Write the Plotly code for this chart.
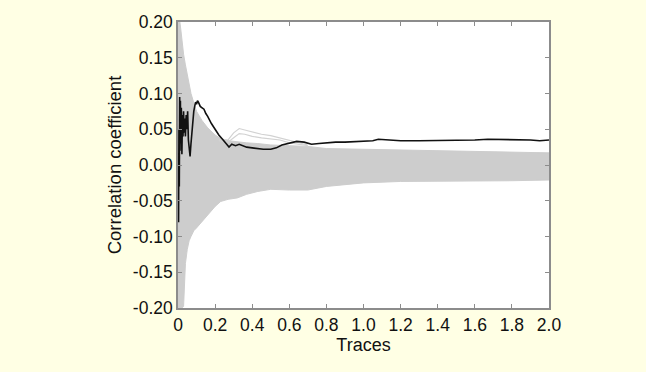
import plotly.graph_objects as go

# Gray band (wrong key hypotheses) envelope
band_x = [0, 0.005, 0.01, 0.015, 0.02, 0.03, 0.04, 0.05, 0.06, 0.07, 0.085, 0.1, 0.13, 0.16, 0.2,
          0.23, 0.27, 0.32, 0.37, 0.43, 0.5, 0.6, 0.7, 0.8, 1.0, 1.2, 1.4, 1.6, 1.8, 2.0]
band_upper = [0.2, 0.2, 0.2, 0.19, 0.175, 0.155, 0.14, 0.125, 0.112, 0.10, 0.087, 0.075, 0.062, 0.052, 0.042,
              0.037, 0.034, 0.032, 0.031, 0.030, 0.028, 0.027, 0.026, 0.023, 0.022, 0.020, 0.019, 0.018, 0.017, 0.017]
band_lower = [-0.2, -0.2, -0.2, -0.2, -0.2, -0.198, -0.138, -0.118, -0.106, -0.1, -0.092, -0.088, -0.079, -0.071, -0.058,
              -0.051, -0.048, -0.046, -0.041, -0.037, -0.034, -0.035, -0.035, -0.030, -0.025, -0.023, -0.023, -0.022, -0.022, -0.021]

# Outlier gray traces
out1_x = [0.22, 0.27, 0.3, 0.33, 0.36, 0.4, 0.45, 0.5, 0.55, 0.6, 0.65, 0.7]
out1_y = [0.036, 0.035, 0.045, 0.051, 0.049, 0.046, 0.043, 0.041, 0.038, 0.034, 0.031, 0.028]
out2_x = [0.22, 0.27, 0.3, 0.33, 0.36, 0.4, 0.45, 0.5, 0.55, 0.6, 0.65, 0.7]
out2_y = [0.034, 0.032, 0.038, 0.044, 0.043, 0.040, 0.038, 0.037, 0.035, 0.031, 0.029, 0.027]

# Correct key trace (black)
key_x = [0.001, 0.003, 0.005, 0.007, 0.009, 0.011, 0.013, 0.015, 0.018, 0.021, 0.024, 0.027,
         0.03, 0.033, 0.036, 0.04, 0.044, 0.048, 0.052, 0.056, 0.06, 0.065, 0.07, 0.075, 0.08,
         0.085, 0.09, 0.095, 0.1, 0.105, 0.11, 0.12, 0.13, 0.14, 0.15, 0.16, 0.18, 0.2, 0.22,
         0.24, 0.26, 0.275, 0.29, 0.31, 0.33, 0.35, 0.37, 0.4, 0.43, 0.46, 0.5, 0.53, 0.56,
         0.6, 0.64, 0.68, 0.72, 0.76, 0.8, 0.85, 0.9, 0.95, 1.0, 1.05, 1.08, 1.12, 1.2, 1.3,
         1.4, 1.5, 1.6, 1.67, 1.75, 1.8, 1.85, 1.9, 1.95, 2.0]
key_y = [0.0, -0.08, 0.05, -0.03, 0.095, 0.02, 0.09, 0.03, 0.08, 0.015, 0.07, 0.04,
         0.075, 0.045, 0.065, 0.04, 0.07, 0.05, 0.075, 0.035, 0.02, 0.012, 0.03, 0.05, 0.065,
         0.075, 0.082, 0.088, 0.085, 0.09, 0.088, 0.082, 0.08, 0.078, 0.072, 0.068, 0.058, 0.05, 0.042,
         0.036, 0.030, 0.025, 0.029, 0.027, 0.029, 0.027, 0.025, 0.024, 0.023, 0.022, 0.022, 0.024, 0.028,
         0.031, 0.033, 0.032, 0.029, 0.030, 0.031, 0.032, 0.032, 0.033, 0.033, 0.034, 0.036, 0.035, 0.034, 0.034,
         0.034, 0.035, 0.035, 0.036, 0.036, 0.036, 0.035, 0.035, 0.034, 0.035]

x_ticks = [0, 0.2, 0.4, 0.6, 0.8, 1.0, 1.2, 1.4, 1.6, 1.8, 2.0]
x_labels = ["0", "0.2", "0.4", "0.6", "0.8", "1.0", "1.2", "1.4", "1.6", "1.8", "2.0"]
y_ticks = [-0.2, -0.15, -0.1, -0.05, 0.0, 0.05, 0.1, 0.15, 0.2]
y_labels = ["-0.20", "-0.15", "-0.10", "-0.05", "0.00", "0.05", "0.10", "0.15", "0.20"]

gray = "#CDCDCD"
fig = go.Figure()
fig.add_trace(go.Scatter(x=band_x, y=band_lower, mode="lines",
                         line=dict(color=gray, width=1, shape="linear"), hoverinfo="skip"))
fig.add_trace(go.Scatter(x=band_x, y=band_upper, mode="lines", fill="tonexty", fillcolor=gray,
                         line=dict(color=gray, width=1, shape="linear"), hoverinfo="skip"))
fig.add_trace(go.Scatter(x=out1_x, y=out1_y, mode="lines", line=dict(color="#D2D2D2", width=1.2)))
fig.add_trace(go.Scatter(x=out2_x, y=out2_y, mode="lines", line=dict(color="#D2D2D2", width=1.2)))
fig.add_trace(go.Scatter(x=key_x, y=key_y, mode="lines", line=dict(color="#111111", width=1.6)))

font = "Liberation Sans, Arial, sans-serif"
axis_common = dict(showline=True, linecolor="#8C8C8C", linewidth=1.5, mirror="ticks",
                   ticks="inside", ticklen=4, tickcolor="#8C8C8C", showgrid=False, zeroline=False,
                   tickfont=dict(family=font, size=17.5, color="#111111"))
fig.update_layout(
    width=646, height=372,
    margin=dict(l=178, r=97, t=18, b=64),
    paper_bgcolor="#FFFFE4", plot_bgcolor="#FFFFFF",
    showlegend=False,
    xaxis=dict(range=[0, 2.0], tickvals=x_ticks, ticktext=x_labels,
               title=dict(text="Traces", font=dict(family=font, size=18, color="#111111"), standoff=2),
               **axis_common),
    yaxis=dict(range=[-0.2, 0.2], tickvals=y_ticks, ticktext=y_labels,
               title=dict(text="Correlation coefficient", font=dict(family=font, size=18.5, color="#111111"), standoff=6),
               **axis_common),
)
fig.write_html("out.html")
